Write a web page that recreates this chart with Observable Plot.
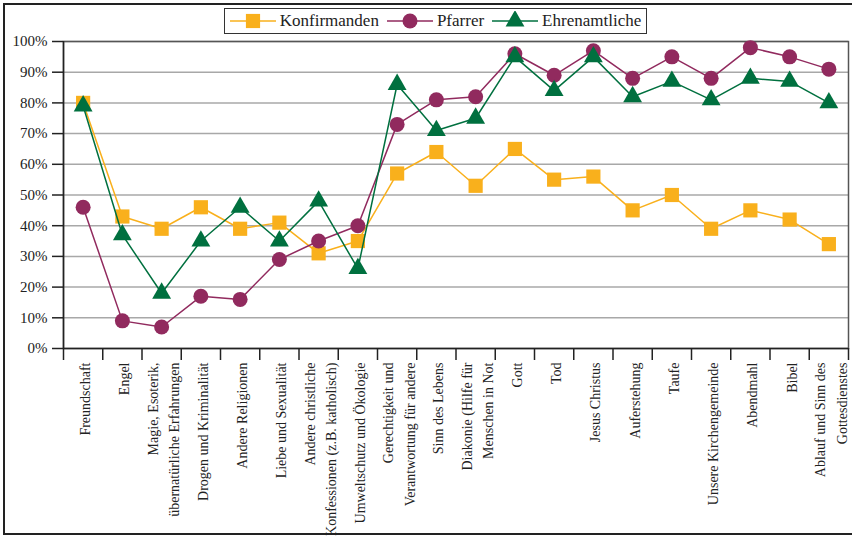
<!DOCTYPE html>
<html>
<head>
<meta charset="utf-8">
<script src="https://cdn.jsdelivr.net/npm/d3@7"></script>
<script src="https://cdn.jsdelivr.net/npm/@observablehq/plot@0.6"></script>
<style>
  html, body { margin: 0; padding: 0; background: #fff; }
  #wrap { position: relative; width: 852px; height: 539px; overflow: hidden; font-family: "Liberation Serif", serif; }
  #outer { position: absolute; left: 3px; top: 3px; width: 900px; height: 532px; border: 2px solid #222; box-sizing: border-box; pointer-events: none; }
  #legendRow { height: 36px; position: relative; }
  #legend { position: absolute; left: 224px; top: 8px; width: 423px; height: 26px; box-sizing: border-box; border: 1.5px solid #333;
            display: flex; align-items: center; justify-content: center; gap: 8px; font-size: 17px; color: #222; }
  .item { display: flex; align-items: center; gap: 4px; }
  svg.plot { display: block; }
</style>
</head>
<body>
<div id="wrap">
  <div id="legendRow"><div id="legend"></div></div>
  <div id="chart"></div>
  <div id="outer"></div>
</div>
<script>
const categories = [
  "Freundschaft",
  "Engel",
  "Magie, Esoterik,\nübernatürliche Erfahrungen",
  "Drogen und Kriminalität",
  "Andere Religionen",
  "Liebe und Sexualität",
  "Andere christliche\nKonfessionen (z.B. katholisch)",
  "Umweltschutz und Ökologie",
  "Gerechtigkeit und\nVerantwortung für andere",
  "Sinn des Lebens",
  "Diakonie (Hilfe für\nMenschen in Not",
  "Gott",
  "Tod",
  "Jesus Christus",
  "Auferstehung",
  "Taufe",
  "Unsere Kirchengemeinde",
  "Abendmahl",
  "Bibel",
  "Ablauf und Sinn des\nGottesdienstes"
];
const konfirmanden  = [80, 43, 39, 46, 39, 41, 31, 35, 57, 64, 53, 65, 55, 56, 45, 50, 39, 45, 42, 34];
const pfarrer       = [46,  9,  7, 17, 16, 29, 35, 40, 73, 81, 82, 96, 89, 97, 88, 95, 88, 98, 95, 91];
const ehrenamtliche = [79, 37, 18, 35, 46, 35, 48, 26, 86, 71, 75, 95, 84, 95, 82, 87, 81, 88, 87, 80];
const yTicks = [0, 10, 20, 30, 40, 50, 60, 70, 80, 90, 100];
const seriesNames = ["Konfirmanden", "Pfarrer", "Ehrenamtliche"];
const seriesColors = ["#F9B01C", "#912A5E", "#00703F"];
const seriesSymbols = ["square", "circle", "triangle"];

const seriesValues = [konfirmanden, pfarrer, ehrenamtliche];
const idx = categories.map((c, i) => i);
const bounds = categories.map((c, i) => i - 0.5).concat([categories.length - 0.5]);
const rows = seriesValues.map(vals => vals.map((v, i) => ({i, v})));
const radii = [8, 7.5, 7];

const marks = [
  Plot.gridY(yTicks.filter(t => t > 0), {stroke: "#a8a8a8", strokeOpacity: 1, strokeWidth: 1.5}),
  Plot.frame({stroke: "#555", strokeWidth: 1.5}),
  Plot.ruleX([-0.5], {stroke: "#222", strokeWidth: 1.5}),
  Plot.ruleY([0], {stroke: "#222", strokeWidth: 1.5}),
  Plot.axisY(yTicks, {tickSize: 11, tickPadding: 5, tickFormat: d => d + "%", fontSize: 15, stroke: "#222", strokeWidth: 1.5, fill: "#222"}),
  Plot.axisX(bounds, {tickSize: 12, tickFormat: () => "", stroke: "#222", strokeWidth: 1.5}),
  Plot.text(idx, {x: d => d, text: d => categories[d], frameAnchor: "bottom", dy: 14, rotate: -90,
                  textAnchor: "end", lineAnchor: "middle", lineHeight: 1.55, fontSize: 14, fill: "#222"})
];
rows.forEach((data, s) => {
  marks.push(Plot.line(data, {x: "i", y: "v", stroke: seriesColors[s], strokeWidth: 1.5}));
  marks.push(Plot.dot(data, {x: "i", y: "v", fill: seriesColors[s], stroke: "none", symbol: seriesSymbols[s], r: radii[s]}));
});

const chart = Plot.plot({
  width: 852,
  height: 503,
  marginLeft: 63,
  marginRight: 4,
  marginTop: 5,
  marginBottom: 191,
  style: {fontFamily: "'Liberation Serif', serif", background: "transparent", overflow: "visible"},
  x: {type: "linear", domain: [-0.5, categories.length - 0.5], label: null, axis: null},
  y: {domain: [0, 100], label: null, axis: null},
  marks
});
document.getElementById("chart").appendChild(chart);

// legend
const legend = document.getElementById("legend");
seriesNames.forEach((name, s) => {
  const item = document.createElement("div");
  item.className = "item";
  const sym = d3.symbol(s === 0 ? d3.symbolSquare : s === 1 ? d3.symbolCircle : d3.symbolTriangle, Math.PI * radii[s] * radii[s])();
  item.innerHTML = `<svg width="46" height="20" viewBox="0 0 46 20"><line x1="0" x2="46" y1="10" y2="10" stroke="${seriesColors[s]}" stroke-width="1.5"/><path d="${sym}" transform="translate(23,10)" fill="${seriesColors[s]}"/></svg><span>${name}</span>`;
  legend.appendChild(item);
});
</script>
</body>
</html>
